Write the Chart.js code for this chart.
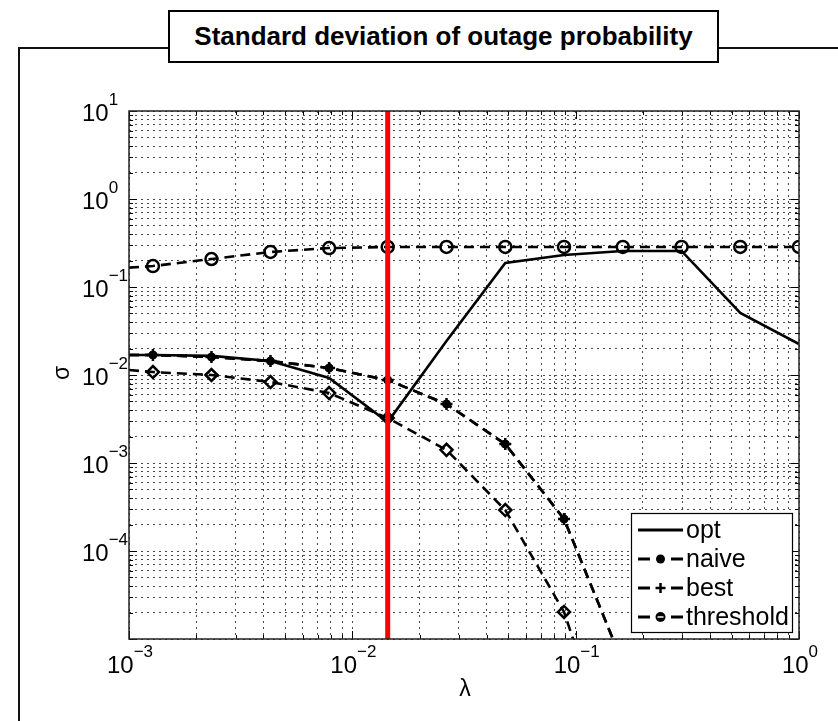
<!DOCTYPE html>
<html>
<head>
<meta charset="utf-8">
<script src="https://cdn.jsdelivr.net/npm/chart.js@4.4.1/dist/chart.umd.min.js"></script>
<style>
  body { margin: 0; background: #fff; }
  #page { position: relative; width: 838px; height: 721px; overflow: hidden; font-family: Arial, 'Liberation Sans', Helvetica, sans-serif; }
  .rule { position: absolute; background: #111; }
  #plot { position: absolute; left: 0; top: 0; }
  #title { position: absolute; left: 168px; top: 10px; width: 547px; height: 49px; border: 2px solid #000; background: #fff;
           font-weight: bold; font-size: 26px; line-height: 49px; text-align: center; color: #000; }
</style>
</head>
<body>
<div id="page">
  <div class="rule" style="left:18px; top:47px; width:2px; height:674px"></div>
  <div class="rule" style="left:18px; top:47px; width:150px; height:2px"></div>
  <div class="rule" style="left:719px; top:47px; width:119px; height:2px"></div>
  <canvas id="plot" width="838" height="721"></canvas>
  <div id="title">Standard deviation of outage probability</div>
</div>
<script>
(() => {

//----- Data -----//

    // λ sweep; the first entry is the left end of the curves (no marker drawn there)
    const lambda = [0.001, 0.00128, 0.00234, 0.0043, 0.00787, 0.0144, 0.0264, 0.0484, 0.0887, 0.1626, 0.2979, 0.5458, 1.0]

    const optSigma       = [0.0169, 0.0169, 0.0165, 0.0144, 0.00925, 0.00292, 0.0243, 0.1875, 0.231, 0.257, 0.257, 0.0507, 0.0225]
    const naiveSigma     = [0.0169, 0.0169, 0.0160, 0.0144, 0.0120, 0.00877, 0.00468, 0.00164, 0.000231, 0.0000053]
    const bestSigma      = [0.0169, 0.0169, 0.0160, 0.0144, 0.0120, 0.00877, 0.00468, 0.00164, 0.000231, 0.0000053]
    const diamondSigma   = [0.0114, 0.0108, 0.0100, 0.00832, 0.00624, 0.00324, 0.00141, 0.000292, 0.0000203, 0.0000002]
    const thresholdSigma = [0.166, 0.173, 0.208, 0.250, 0.277, 0.285, 0.285, 0.285, 0.285, 0.285, 0.285, 0.285, 0.285]

    // chosen λ, marked with the red line
    const markedLambda = 0.0144

    const xRange = [1e-3, 1]
    const yRange = [1e-5, 10]
    const xLabelExps = [-3, -2, -1, 0]
    const yLabelExps = [1, 0, -1, -2, -3, -4]
    const legendNames = ['opt', 'naive', 'best', 'threshold']

//----- Helpers -----//

    const FONT = "Arial, 'Liberation Sans', Helvetica, sans-serif"

    function points (values) {
        return values.map((v, i) => ({ x: lambda[i], y: v }))
    }

    // 1..9 x 10^k between min and max, like a MATLAB log grid
    function logTicks (min, max) {
        const out = []
        for (let e = Math.floor(Math.log10(min)); e <= Math.ceil(Math.log10(max)); e++) {
            for (let m = 1; m <= 9; m++) {
                const v = parseFloat((m * Math.pow(10, e)).toPrecision(6))
                if (v >= min * 0.999 && v <= max * 1.001) out.push({ value: v })
            }
        }
        return out
    }

    function isDecade (v) {
        const l = Math.log10(v)
        return Math.abs(l - Math.round(l)) < 1e-6
    }

    const noMarkAtStart = r => ctx => ctx.dataIndex === 0 ? 0 : r

    function powLabel (ctx, exp, x, y, align) {
        const base = '10'
        const sup = exp < 0 ? '\u2212' + Math.abs(exp) : String(exp)
        ctx.font = '24px ' + FONT
        const wb = ctx.measureText(base).width
        ctx.font = '17px ' + FONT
        const ws = ctx.measureText(sup).width
        const left = align === 'center' ? x - (wb + ws) / 2 : x
        ctx.textAlign = 'left'
        ctx.textBaseline = 'middle'
        ctx.font = '24px ' + FONT
        ctx.fillText(base, left, y)
        ctx.font = '17px ' + FONT
        ctx.fillText(sup, left + wb, y - 14)
    }

    function marker (ctx, style, x, y) {
        ctx.save()
        ctx.setLineDash([])
        ctx.lineWidth = 2.5
        ctx.beginPath()
        if (style === 'dot') {
            ctx.arc(x, y, 4.5, 0, Math.PI * 2)
            ctx.fill()
        } else if (style === 'cross') {
            ctx.moveTo(x - 5, y); ctx.lineTo(x + 5, y)
            ctx.moveTo(x, y - 5); ctx.lineTo(x, y + 5)
            ctx.stroke()
        } else if (style === 'ring') {
            ctx.arc(x, y, 5, 0, Math.PI * 2)
            ctx.fill()
            ctx.strokeStyle = '#fff'
            ctx.lineWidth = 1.5
            ctx.beginPath()
            ctx.moveTo(x - 3, y); ctx.lineTo(x + 3, y)
            ctx.stroke()
        }
        ctx.restore()
    }

//----- Plugin: box, inner ticks, tick labels, axis names, legend -----//

    const matlabAxes = {
        id: 'matlabAxes',
        afterDraw (chart) {
            const { ctx, chartArea: a, scales: { x, y } } = chart
            ctx.save()

            // inner tick marks on all four sides
            ctx.strokeStyle = '#000'
            ctx.lineWidth = 1
            ctx.beginPath()
            x.ticks.forEach(t => {
                const px = Math.round(x.getPixelForValue(t.value)) + 0.5
                const len = isDecade(t.value) ? 8 : 4
                ctx.moveTo(px, a.bottom); ctx.lineTo(px, a.bottom - len)
                ctx.moveTo(px, a.top); ctx.lineTo(px, a.top + len)
            })
            y.ticks.forEach(t => {
                const py = Math.round(y.getPixelForValue(t.value)) + 0.5
                const len = isDecade(t.value) ? 8 : 4
                ctx.moveTo(a.left, py); ctx.lineTo(a.left + len, py)
                ctx.moveTo(a.right, py); ctx.lineTo(a.right - len, py)
            })
            ctx.stroke()

            // axes box
            ctx.lineWidth = 1.5
            ctx.strokeStyle = '#222'
            ctx.strokeRect(a.left, a.top, a.right - a.left, a.bottom - a.top)

            // tick labels
            ctx.fillStyle = '#000'
            xLabelExps.forEach(e => {
                powLabel(ctx, e, x.getPixelForValue(Math.pow(10, e)) + 1, a.bottom + 27, 'center')
            })
            yLabelExps.forEach(e => {
                powLabel(ctx, e, 82, y.getPixelForValue(Math.pow(10, e)) + 3, 'left')
            })

            // axis names
            ctx.font = '23px ' + FONT
            ctx.textAlign = 'center'
            ctx.textBaseline = 'middle'
            ctx.fillText('\u03bb', 465, 690)
            ctx.save()
            ctx.translate(63, 373)
            ctx.rotate(-Math.PI / 2)
            ctx.fillText('\u03c3', 0, 0)
            ctx.restore()

            // legend
            const lx = 631, ly = 513, lw = 161, lh = 119
            ctx.fillStyle = '#fff'
            ctx.fillRect(lx, ly, lw, lh)
            ctx.strokeStyle = '#000'
            ctx.lineWidth = 1.2
            ctx.strokeRect(lx + 0.5, ly + 0.5, lw, lh)

            const styles = ['solid', 'dot', 'cross', 'ring']
            legendNames.forEach((name, i) => {
                const ry = ly + 17 + i * 29
                ctx.strokeStyle = '#000'
                ctx.fillStyle = '#000'
                ctx.lineWidth = 3
                ctx.beginPath()
                if (styles[i] === 'solid') {
                    ctx.moveTo(638, ry); ctx.lineTo(683, ry)
                } else {
                    ctx.moveTo(638, ry); ctx.lineTo(650, ry)
                    ctx.moveTo(671, ry); ctx.lineTo(683, ry)
                }
                ctx.stroke()
                if (styles[i] !== 'solid') marker(ctx, styles[i], 660.5, ry)
                ctx.font = '25px ' + FONT
                ctx.textAlign = 'left'
                ctx.textBaseline = 'middle'
                ctx.fillText(name, 686, ry + 1)
            })

            ctx.restore()
        }
    }

//----- Chart -----//

    const dashed = [10, 6]
    const clear = 'rgba(255,255,255,0)'

    const datasets = [
        {
            label: 'marked λ',
            data: [{ x: markedLambda, y: yRange[0] }, { x: markedLambda, y: yRange[1] }],
            borderColor: '#ff0000', borderWidth: 5, pointRadius: 0, order: 0
        },
        {
            label: 'opt', data: points(optSigma),
            borderColor: '#000', borderWidth: 2.6, pointRadius: 0, order: 1
        },
        {
            label: 'naive', data: points(naiveSigma),
            borderColor: '#000', borderWidth: 2.6, borderDash: dashed,
            pointStyle: 'circle', pointRadius: noMarkAtStart(4),
            pointBackgroundColor: '#000', pointBorderColor: '#000', pointBorderWidth: 1, order: 1
        },
        {
            label: 'best', data: points(bestSigma),
            borderColor: '#000', borderWidth: 2.6, borderDash: dashed,
            pointStyle: 'cross', pointRadius: noMarkAtStart(6),
            pointBorderColor: '#000', pointBorderWidth: 2.5, order: 1
        },
        {
            label: 'diamond', data: points(diamondSigma),
            borderColor: '#000', borderWidth: 2.6, borderDash: dashed,
            pointStyle: 'rectRot', pointRadius: noMarkAtStart(6),
            pointBackgroundColor: clear, pointBorderColor: '#000', pointBorderWidth: 2.5, order: 1
        },
        {
            label: 'threshold', data: points(thresholdSigma),
            borderColor: '#000', borderWidth: 2.6, borderDash: dashed,
            pointStyle: 'circle', pointRadius: noMarkAtStart(6),
            pointBackgroundColor: clear, pointBorderColor: '#000', pointBorderWidth: 2.5, order: 1
        }
    ]

    const gridOpts = { color: '#4a4a4a', lineWidth: 1, drawTicks: false }
    const borderOpts = { display: false, dash: [2, 4] }

    new Chart(document.getElementById('plot'), {
        type: 'line',
        data: { datasets },
        options: {
            responsive: false,
            animation: false,
            events: [],
            devicePixelRatio: 1,
            layout: { padding: { left: 129, top: 111, right: 39, bottom: 82 } },
            elements: { line: { tension: 0 } },
            plugins: { legend: { display: false }, tooltip: { enabled: false } },
            scales: {
                x: {
                    type: 'logarithmic', min: xRange[0], max: xRange[1],
                    grid: gridOpts, border: borderOpts,
                    ticks: { display: false },
                    afterBuildTicks: s => { s.ticks = logTicks(xRange[0], xRange[1]) },
                    afterFit: s => { s.height = 0 }
                },
                y: {
                    type: 'logarithmic', min: yRange[0], max: yRange[1],
                    grid: gridOpts, border: borderOpts,
                    ticks: { display: false },
                    afterBuildTicks: s => { s.ticks = logTicks(yRange[0], yRange[1]) },
                    afterFit: s => { s.width = 0 }
                }
            }
        },
        plugins: [matlabAxes]
    })

})();
</script>
</body>
</html>
